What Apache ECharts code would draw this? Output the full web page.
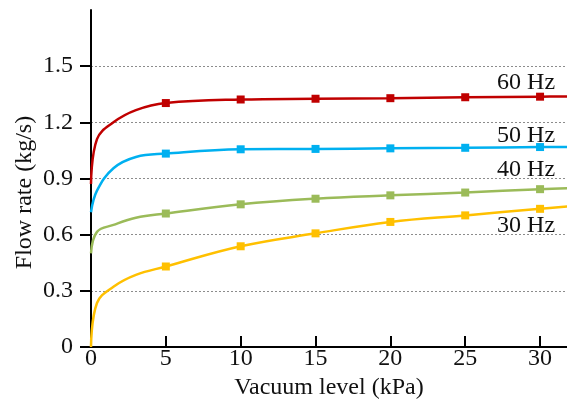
<!DOCTYPE html>
<html>
<head>
<meta charset="utf-8">
<script src="https://cdn.jsdelivr.net/npm/echarts@6/dist/echarts.min.js"></script>
<style>
html,body{margin:0;padding:0;background:#fff;}
#chart{width:567px;height:405px;}
</style>
</head>
<body>
<div id="chart"></div>
<script>
// ---- data ----
var xValues   = [0, 0.4, 1.5, 3, 5, 10, 15, 20, 25, 30, 32];
var markerX   = [5, 10, 15, 20, 25, 30];
var hz60 = [0.87, 1.11, 1.2, 1.265, 1.303, 1.322, 1.326, 1.329, 1.334, 1.337, 1.338];
var hz50 = [0.72, 0.835, 0.955, 1.015, 1.033, 1.056, 1.058, 1.061, 1.064, 1.068, 1.069];
var hz40 = [0.50, 0.615, 0.652, 0.69, 0.713, 0.762, 0.792, 0.81, 0.825, 0.843, 0.848];
var hz30 = [0.00, 0.235, 0.322, 0.385, 0.43, 0.538, 0.607, 0.668, 0.703, 0.738, 0.752];
var seriesNames  = ['60 Hz', '50 Hz', '40 Hz', '30 Hz'];
var seriesColors = ['#c00000', '#00b0f0', '#9bbb59', '#ffc000'];
var xTicks = [0, 5, 10, 15, 20, 25, 30];
var yTicks = [0, 0.3, 0.6, 0.9, 1.2, 1.5];
var labelAtX = 30;
var labelOffsets = [[-14, -14], [-14, -11], [-14, -19], [-14, 17]];

var font = 'Liberation Serif';
var textColor = '#111';

function build(vals, idx) {
  return xValues.map(function (x, i) {
    var isMarker = markerX.indexOf(x) >= 0;
    var item = { value: [x, vals[i]], symbol: isMarker ? 'rect' : 'none' };
    if (x === labelAtX) {
      item.label = {
        show: true, position: 'inside', offset: labelOffsets[idx],
        formatter: seriesNames[idx], color: textColor,
        fontFamily: font, fontSize: 24
      };
    }
    return item;
  });
}

var allVals = [hz60, hz50, hz40, hz30];
var series = allVals.map(function (v, i) {
  return {
    name: seriesNames[i], type: 'line', data: build(v, i),
    smooth: 0.4,
    symbolSize: 8, showSymbol: true,
    color: seriesColors[i],
    lineStyle: { width: 2.5, color: seriesColors[i] },
    itemStyle: { color: seriesColors[i] },
    label: { show: false },
    emphasis: { disabled: true },
    clip: true, z: 5
  };
});

var chart = echarts.init(document.getElementById('chart'), null, { renderer: 'canvas' });
chart.setOption({
  animation: false,
  backgroundColor: '#fff',
  textStyle: { fontFamily: font },
  grid: { left: 91, right: 0, top: 10, bottom: 55, containLabel: false },
  xAxis: [{
    type: 'value', min: 0, max: 31.8, interval: 5,
    name: 'Vacuum level (kPa)', nameLocation: 'middle', nameGap: 29, nameMoveOverlap: false,
    nameTextStyle: { fontFamily: font, fontSize: 24, color: textColor },
    axisLine: { show: true, onZero: false, lineStyle: { color: '#000', width: 2 } },
    axisTick: { show: true, inside: true, length: 11, customValues: xTicks, lineStyle: { color: '#000', width: 2 } },
    axisLabel: { show: true, margin: 0, customValues: xTicks, fontFamily: font, fontSize: 24, color: textColor },
    splitLine: { show: false }
  }, {
    type: 'value', position: 'top', min: 0, max: 31.8,
    axisLine: { show: true, lineStyle: { color: '#000', width: 2 } },
    axisTick: { show: false }, axisLabel: { show: false }, splitLine: { show: false }
  }],
  yAxis: {
    type: 'value', min: 0, max: 1.8, interval: 0.3,
    name: 'Flow rate (kg/s)', nameLocation: 'middle', nameGap: 54, nameRotate: 90, nameMoveOverlap: false,
    nameTextStyle: { fontFamily: font, fontSize: 24, color: textColor, padding: [0, 28, 0, 0] },
    axisLine: { show: true, lineStyle: { color: '#000', width: 2 } },
    axisTick: { show: true, inside: false, length: 11, customValues: yTicks, lineStyle: { color: '#000', width: 2 } },
    axisLabel: { show: true, margin: 18, customValues: yTicks, fontFamily: font, fontSize: 24, color: textColor,
      formatter: function (v) { return v === 0 ? '0' : v.toFixed(1); } },
    splitLine: { show: true, lineStyle: { color: '#8c8c8c', width: 1, type: [2, 2] } }
  },
  series: series
});
</script>
</body>
</html>
